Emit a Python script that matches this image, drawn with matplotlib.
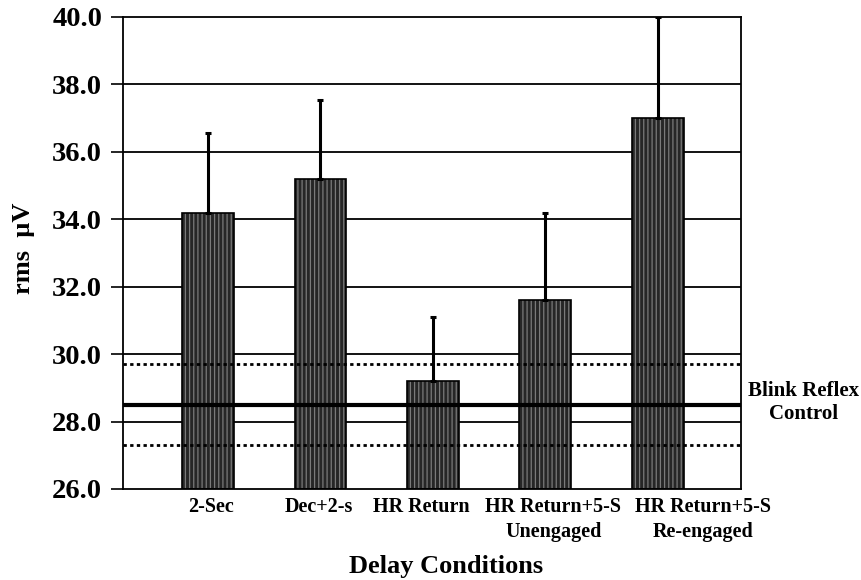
"""Blink reflex rms amplitude by delay condition."""

import matplotlib

matplotlib.use("Agg")
import matplotlib.pyplot as plt
from matplotlib.transforms import ScaledTranslation

categories = [
    "2-Sec",
    "Dec+2-s",
    "HR Return",
    "HR Return+5-S\nUnengaged",
    "HR Return+5-S\nRe-engaged",
]
means = [34.2, 35.2, 29.2, 31.6, 37.0]
upper_err = [2.35, 2.35, 1.9, 2.6, 3.0]

control_mean = 28.5
control_upper = 29.7
control_lower = 27.3

y_ticks = [26.0, 28.0, 30.0, 32.0, 34.0, 36.0, 38.0, 40.0]

# the original labels sit a little off the bar centres (pixels)
label_shift = [3, -2, -12, 8, 45]

plt.rcParams["font.family"] = ["Liberation Serif", "DejaVu Serif"]
plt.rcParams["font.weight"] = "bold"
plt.rcParams["hatch.linewidth"] = 0.9

fig = plt.figure(figsize=(8.62, 5.8), dpi=100)
ax = fig.add_axes([123 / 862, 1 - 489 / 580, 618 / 862, 472 / 580])

x = list(range(len(categories)))

# gridlines behind the bars
for v in y_ticks[1:-1]:
    ax.axhline(v, color="black", lw=1.3, zorder=1)

heights = [m - 26.0 for m in means]
ax.bar(x, heights, bottom=26.0, width=0.46,
       color="#262626", edgecolor="#7a7a7a", hatch="||||", lw=0, zorder=2)
ax.bar(x, heights, bottom=26.0, width=0.46,
       fill=False, edgecolor="black", lw=1.2, zorder=3)
ax.errorbar(x, means, yerr=[[0] * len(means), upper_err], fmt="none",
            ecolor="black", elinewidth=2.2, capsize=2, capthick=2.2, zorder=4)

ax.axhline(control_mean, color="black", lw=3, zorder=5)
ax.axhline(control_upper, color="black", lw=2, ls=(0, (1.2, 1.2)), zorder=5)
ax.axhline(control_lower, color="black", lw=2, ls=(0, (1.2, 1.2)), zorder=5)

ax.set_xlim(-0.755, 4.74)
ax.set_ylim(26.0, 40.0)
ax.set_yticks(y_ticks)
ax.set_yticklabels([f"{v:.1f}" for v in y_ticks], fontsize=20.5, fontweight="bold")
ax.set_xticks(x)
ax.set_xticklabels(categories, fontsize=14.5, fontweight="bold", linespacing=1.3)
ax.tick_params(axis="x", length=0, pad=6)
ax.tick_params(axis="y", direction="out", length=9, width=1.2, pad=6)

for lbl, dx in zip(ax.get_xticklabels(), label_shift):
    lbl.set_transform(lbl.get_transform() + ScaledTranslation(dx / 100, 0, fig.dpi_scale_trans))

for side in ["left", "right", "top", "bottom"]:
    ax.spines[side].set_linewidth(1.3)

ax.set_ylabel("rms  \u00b5V", fontsize=19, fontweight="bold")
ax.yaxis.set_label_coords(-0.143, 0.51)
ax.set_xlabel("Delay Conditions", fontsize=19, fontweight="bold")
ax.xaxis.set_label_coords(0.522, -0.14)

ax.text(1.101, (control_mean - 26.0) / 14.0 + 0.004, "Blink Reflex\nControl",
        transform=ax.transAxes, ha="center", va="center", fontsize=15,
        fontweight="bold", linespacing=1.2, multialignment="center")

fig.savefig("out.png", dpi=100)
